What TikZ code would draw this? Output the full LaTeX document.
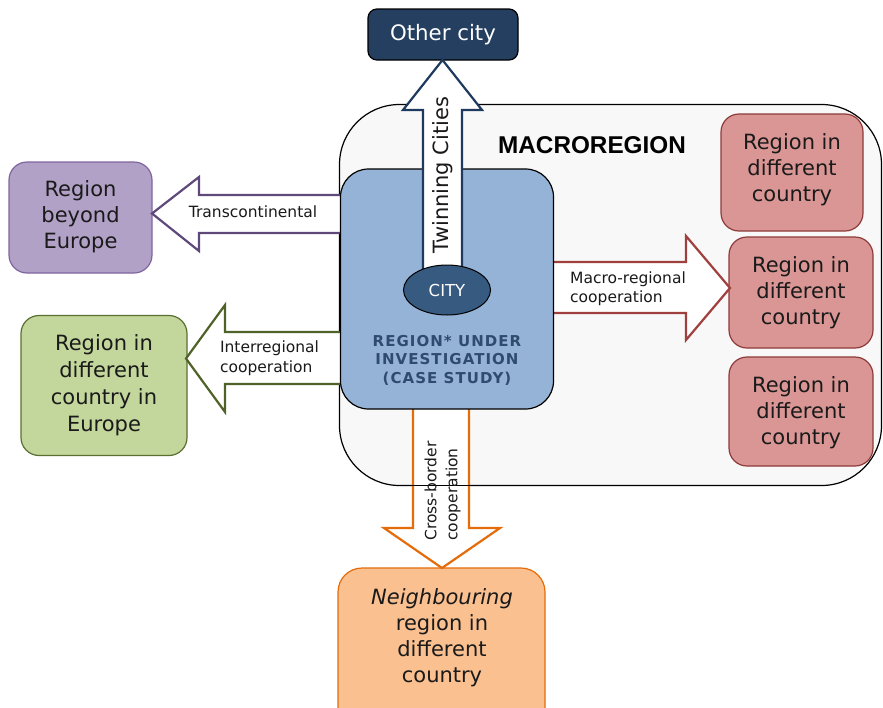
\documentclass[tikz,border=0pt]{standalone}
\usepackage{fontspec}
\usetikzlibrary{shapes.geometric}
\setmainfont{DejaVu Sans}
\newfontfamily\arialfont{Liberation Sans}
\newfontfamily\regfont[LetterSpace=7]{DejaVu Sans}
\definecolor{navy}{HTML}{243F60}
\definecolor{navyline}{HTML}{1F3A5F}
\definecolor{cityfill}{HTML}{375A80}
\definecolor{bluefill}{HTML}{95B3D7}
\definecolor{regtxt}{HTML}{2F4B6E}
\definecolor{purpfill}{HTML}{B2A1C7}
\definecolor{purpline}{HTML}{7F64A0}
\definecolor{purparrow}{HTML}{5F497A}
\definecolor{grnfill}{HTML}{C3D69B}
\definecolor{grnline}{HTML}{5A7030}
\definecolor{grnarrow}{HTML}{4F6228}
\definecolor{pinkfill}{HTML}{D99694}
\definecolor{pinkline}{HTML}{8E3B3A}
\definecolor{redarrow}{HTML}{A0403E}
\definecolor{orgfill}{HTML}{FAC090}
\definecolor{orgline}{HTML}{E46C0A}
\definecolor{macrofill}{HTML}{F8F8F8}
\definecolor{txt}{HTML}{1A1A1A}
\begin{document}
\begin{tikzpicture}[x=1pt,y=-1pt,
  every node/.style={inner sep=0pt,outer sep=0pt,align=center,text=txt},
  big/.style={font=\fontsize{21}{26}\selectfont},
  small/.style={font=\fontsize{15.5}{19.5}\selectfont},
  regbox/.style={draw,line width=1.2pt,rounded corners=18pt},
  blockarrow/.style={line width=2.2pt,fill=white,line join=miter}]
\clip (0,0) rectangle (883,707);
% macroregion
\node[draw=black,line width=1.2pt,fill=macrofill,rounded corners=60pt,minimum width=542pt,minimum height=381pt] (macro) at (610.5,295) {};
\node[font=\arialfont\bfseries\fontsize{24.3}{28}\selectfont,text=black] (macrolbl) at (592,145) {MACROREGION};
% other city
\node[draw=black,line width=1.2pt,fill=navy,rounded corners=9pt,minimum width=150pt,minimum height=51pt,text=white,font=\fontsize{21.3}{26}\selectfont] (other) at (443,34.5) {Other city};
% outer boxes
\node[regbox,draw=purpline,fill=purpfill,minimum width=143pt,minimum height=111pt] (beyond) at (80.5,217.5) {};
\node[big] at (80.5,217) {Region\\beyond\\Europe};
\node[regbox,draw=grnline,fill=grnfill,minimum width=166pt,minimum height=140pt] (europe) at (104,385.5) {};
\node[big,font=\fontsize{21}{27}\selectfont] at (104,385) {Region in\\different\\country in\\Europe};
\node[regbox,draw=pinkline,fill=pinkfill,minimum width=142pt,minimum height=117pt] (p1) at (792,172.5) {};
\node[big] at (792,169.5) {Region in\\different\\country};
\node[regbox,draw=pinkline,fill=pinkfill,minimum width=144pt,minimum height=111pt] (p2) at (801,292.5) {};
\node[big] at (801,292.5) {Region in\\different\\country};
\node[regbox,draw=pinkline,fill=pinkfill,minimum width=144pt,minimum height=109pt] (p3) at (801,411.5) {};
\node[big] at (801,412.5) {Region in\\different\\country};
\node[regbox,draw=orgline,fill=orgfill,rounded corners=24pt,minimum width=207pt,minimum height=170pt] (neigh) at (441.5,653) {};
\node[big] at (442,637.5) {\textit{Neighbouring}\\region in\\different\\country};
% side arrows
\draw[blockarrow,draw=purparrow] (345,195) -- (199,195) -- (199,177) -- (152,213.5) -- (199,251) -- (199,233) -- (345,233) -- cycle;
\node[small] at (253,212) {Transcontinental};
\draw[blockarrow,draw=grnarrow] (345,332) -- (225,332) -- (225,305) -- (186,358.5) -- (225,412) -- (225,384) -- (345,384) -- cycle;
\node[small,align=left] at (269.5,358) {Interregional\\cooperation};
\draw[blockarrow,draw=redarrow] (548,262) -- (686,262) -- (686,236) -- (730,288) -- (686,340) -- (686,313) -- (548,313) -- cycle;
\node[small,align=left] at (628,288.5) {Macro-regional\\cooperation};
\draw[blockarrow,draw=orgline] (413,404) -- (413,528) -- (384,528) -- (442,568) -- (500,528) -- (469,528) -- (469,404) -- cycle;
\draw[line width=1.2pt] (412,485.5) -- (470,485.5);
\node[small,align=left,rotate=90,font=\fontsize{15.5}{21}\selectfont] at (442.5,491) {Cross-border\\cooperation};
% region under investigation
\node[draw=black,line width=1.2pt,fill=bluefill,rounded corners=28pt,minimum width=213pt,minimum height=240pt] (region) at (447,289) {};
\draw[blockarrow,draw=navyline] (423,270) -- (423,110) -- (403,110) -- (442.5,60) -- (482,110) -- (462,110) -- (462,270) -- cycle;
\node[rotate=90,font=\fontsize{21}{24}\selectfont] at (442.5,175) {Twinning Cities};
\node[draw=black,line width=1pt,fill=cityfill,ellipse,minimum width=87pt,minimum height=50pt,text=white,font=\fontsize{16.5}{18}\selectfont] (city) at (447,290) {CITY};
\node[text=regtxt,font=\regfont\bfseries\fontsize{15}{18.5}\selectfont] (reglbl) at (447,360) {REGION* UNDER\\INVESTIGATION\\(CASE STUDY)};
\end{tikzpicture}
\end{document}
